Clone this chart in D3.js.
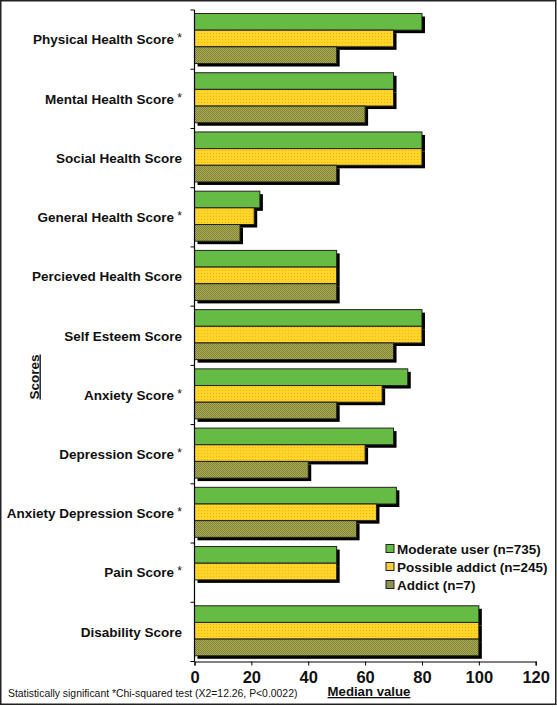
<!DOCTYPE html>
<html><head><meta charset="utf-8">
<script src="https://cdn.jsdelivr.net/npm/d3@7/dist/d3.min.js"></script>
<style>body{margin:0;background:#fff}svg{display:block;font-family:"Liberation Sans",Arial,sans-serif}</style>
</head><body>
<svg id="c" width="557" height="707"></svg>
<script>
const categories = ["Physical Health Score","Mental Health Score","Social Health Score","General Health Score","Percieved Health Score","Self Esteem Score","Anxiety Score","Depression Score","Anxiety Depression Score","Pain Score","Disability Score"];
const significant = [true,true,false,true,false,false,true,true,true,true,false];
const seriesNames = ["Moderate user (n=735)","Possible addict (n=245)","Addict (n=7)"];
const moderate = [80,70,80,23,50,80,75,70,71,50,100];
const possible = [70,70,80,21,50,80,66,60,64,50,100];
const addict   = [50,60,50,16,50,70,50,40,57,0,100];
const xTicks = [0,20,40,60,80,100,120];

const svg = d3.select("#c");
const defs = svg.append("defs");
const py = defs.append("pattern").attr("id","pYel").attr("width",3).attr("height",3).attr("patternUnits","userSpaceOnUse");
py.append("rect").attr("width",3).attr("height",3).attr("fill","#FFD52A");
py.append("rect").attr("x",0).attr("y",0).attr("width",1).attr("height",1).attr("fill","#EDB514");
const po = defs.append("pattern").attr("id","pOl").attr("width",2).attr("height",2).attr("patternUnits","userSpaceOnUse");
po.append("rect").attr("width",2).attr("height",2).attr("fill","#A7AA5C");
po.append("rect").attr("x",0).attr("y",0).attr("width",1).attr("height",1).attr("fill","#84862F");
po.append("rect").attr("x",1).attr("y",1).attr("width",1).attr("height",1).attr("fill","#84862F");
const fills = ["#66BB44","url(#pYel)","url(#pOl)"];
const legendFills = ["#66BB44","#F7CE3A","#8F9150"];

// border
svg.append("rect").attr("x",0.75).attr("y",0.75).attr("width",555).attr("height",703.5).attr("fill","none").attr("stroke","#222").attr("stroke-width",1.5);

const x = d3.scaleLinear().domain([0,120]).range([194.5,535.7]);
const y = d3.scaleBand().domain(categories).range([10,661.5]);
const inner = d3.scaleBand().domain([0,1,2]).range([3.5,53.5]);
const series = [moderate,possible,addict];

const g = svg.append("g");
categories.forEach((c,i)=>{
  series.forEach((s,k)=>{
    const v = s[i];
    if(v<=0) return;
    const y0 = y(c)+inner(k);
    g.append("rect").attr("x",x(0)+3).attr("y",y0+3).attr("width",x(v)-x(0)).attr("height",inner.bandwidth()).attr("fill","#000");
  });
});
categories.forEach((c,i)=>{
  series.forEach((s,k)=>{
    const v = s[i];
    if(v<=0) return;
    const y0 = y(c)+inner(k);
    g.append("rect").attr("x",x(0)).attr("y",y0).attr("width",x(v)-x(0)).attr("height",inner.bandwidth()).attr("fill",fills[k]).attr("stroke","#222").attr("stroke-width",1);
  });
});

// y axis
svg.append("line").attr("x1",x(0)).attr("x2",x(0)).attr("y1",10).attr("y2",661.5).attr("stroke","#000").attr("stroke-width",1.2);
const yb = categories.map(c=>y(c)).concat([661.5]);
yb.forEach(v=>svg.append("line").attr("x1",x(0)-4).attr("x2",x(0)).attr("y1",v).attr("y2",v).attr("stroke","#000"));
// category labels
categories.forEach((c,i)=>{
  const t = svg.append("text").attr("x",182).attr("y",y(c)+y.bandwidth()/2+4.8).attr("text-anchor","end").attr("font-size",13.5).attr("font-weight","bold").attr("fill","#111");
  t.append("tspan").text(c);
  if(significant[i]) t.append("tspan").attr("font-weight","normal").attr("font-size",12).attr("dy",-2).text(" *");
});

// x axis
const xa = svg.append("g").attr("transform","translate(0,661.5)")
  .call(d3.axisBottom(x).tickValues(xTicks).tickSize(4).tickPadding(4));
xa.select(".domain").attr("stroke","#000").attr("stroke-width",1.2);
xa.selectAll(".tick line").attr("y1",0).attr("y2",4).attr("stroke","#000");
xa.selectAll(".tick text").attr("font-size",16.5).attr("font-weight","bold").attr("fill","#111").attr("font-family","'Liberation Sans',Arial,sans-serif").attr("dy",0).attr("y",21);

svg.append("text").attr("x",369).attr("y",696).attr("text-anchor","middle").attr("font-size",13.2).attr("font-weight","bold").attr("text-decoration","underline").attr("fill","#111").text("Median value");
svg.append("text").attr("x",8).attr("y",697).attr("font-size",10.4).attr("fill","#111").text("Statistically significant *Chi-squared test (X2=12.26, P<0.0022)");
svg.append("text").attr("transform","translate(38.5,377) rotate(-90)").attr("text-anchor","middle").attr("font-size",13.5).attr("font-weight","bold").attr("text-decoration","underline").attr("fill","#111").text("Scores");

// legend
seriesNames.forEach((n,k)=>{
  const ly = 549 + k*18;
  svg.append("rect").attr("x",386).attr("y",ly-4.5).attr("width",8).attr("height",8).attr("fill",legendFills[k]).attr("stroke","#222").attr("stroke-width",1);
  svg.append("text").attr("x",397).attr("y",ly+4.7).attr("font-size",13.5).attr("font-weight","bold").attr("fill","#111").text(n);
});
</script>
</body></html>
